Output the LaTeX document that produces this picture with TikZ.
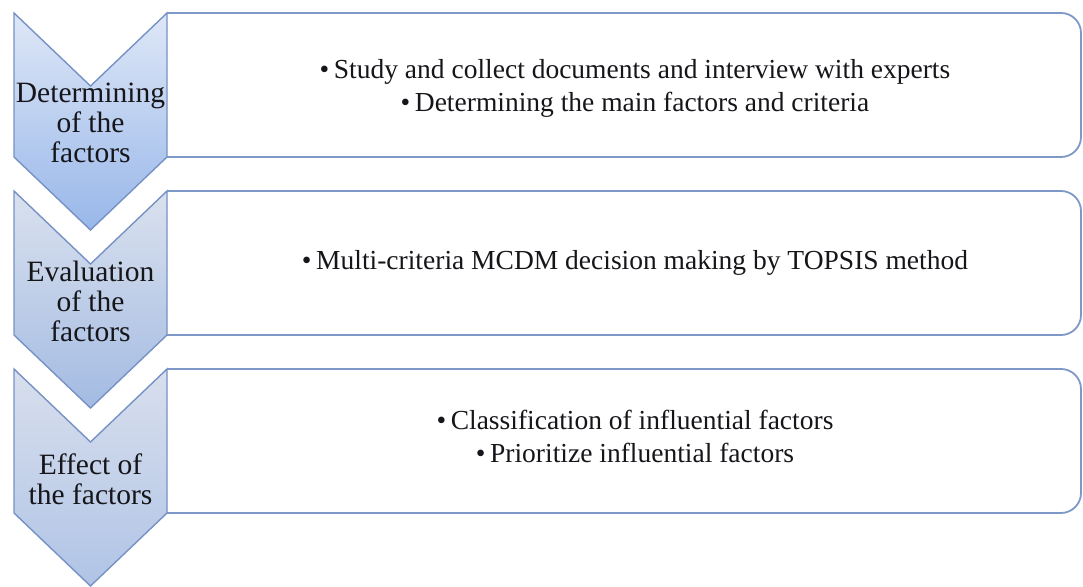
\documentclass[tikz,border=0pt]{standalone}
\usepackage{fontspec}
\setmainfont{Liberation Serif}
\begin{document}
\begin{tikzpicture}[x=1pt,y=-1pt,
  chevline/.style={draw=chevblue, line width=1.4pt, line join=miter},
  boxline/.style={draw=boxblue, line width=1.8pt, fill=white, rounded corners=20pt},
  chevtext/.style={align=center, text=textdark, inner sep=0pt,
    font=\fontsize{29.5}{30}\selectfont},
  itemtext/.style={align=center, text=textdark, inner sep=0pt,
    font=\fontsize{27.5}{33}\selectfont}]
\definecolor{chevblue}{RGB}{118,146,196}
\definecolor{boxblue}{RGB}{126,152,200}
\definecolor{textdark}{RGB}{22,22,26}
\definecolor{cAtop}{RGB}{222,231,247}
\definecolor{cAbot}{RGB}{152,183,233}
\definecolor{cBtop}{RGB}{218,225,238}
\definecolor{cBbot}{RGB}{163,187,226}
\definecolor{cCtop}{RGB}{216,223,237}
\definecolor{cCbot}{RGB}{176,196,230}

\useasboundingbox (0,0) rectangle (1083,586);
\fill[white] (0,0) rectangle (1083,586);

% geometry: left/right edges of the chevrons, right edge of the boxes
\def\xl{14}\def\xr{167}\def\xm{90.5}\def\xe{1081}
\def\bh{144}\def\dv{73}

% one step: box on the right, chevron on the left
\foreach \t/\ct/\cb in {13/cAtop/cAbot, 191/cBtop/cBbot, 369/cCtop/cCbot}{
  \path[boxline] (\xr,\t) -- (\xe,\t) -- (\xe,\t+\bh) -- (\xr,\t+\bh);
  \shade[top color=\ct, bottom color=\cb]
    (\xl,\t) -- (\xm,\t+\dv) -- (\xr,\t) -- (\xr,\t+\bh)
    -- (\xm,\t+\bh+\dv) -- (\xl,\t+\bh) -- cycle;
  \path[chevline]
    (\xl,\t) -- (\xm,\t+\dv) -- (\xr,\t) -- (\xr,\t+\bh)
    -- (\xm,\t+\bh+\dv) -- (\xl,\t+\bh) -- cycle;
}

% step labels
\node[chevtext] (s1) at (\xm,123) {Determining\\of the\\factors};
\node[chevtext] (s2) at (\xm,301) {Evaluation\\of the\\factors};
\node[chevtext] (s3) at (\xm,479) {Effect of\\the factors};

% step contents
\node[itemtext] (d1) at (635,88)
  {•\,Study and collect documents and interview with experts\\
   •\,Determining the main factors and criteria};
\node[itemtext] (d2) at (635,263)
  {•\,Multi-criteria MCDM decision making by TOPSIS method};
\node[itemtext] (d3) at (635,436)
  {•\,Classification of influential factors\\
   •\,Prioritize influential factors};
\end{tikzpicture}
\end{document}
